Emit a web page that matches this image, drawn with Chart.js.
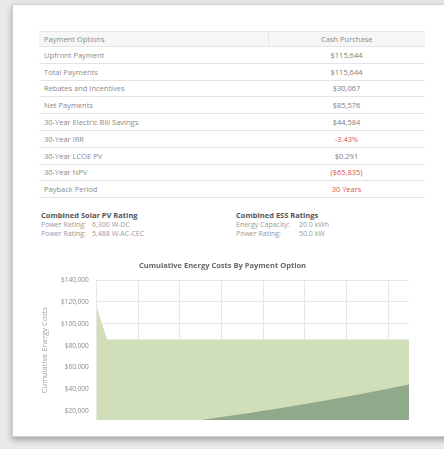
<!DOCTYPE html>
<html>
<head>
<meta charset="utf-8">
<script src="https://cdn.jsdelivr.net/npm/chart.js@4.4.0/dist/chart.umd.min.js"></script>
<style>
  body { margin: 0; width: 444px; height: 449px; background: #e9e9e9; font-family: "Open Sans", sans-serif; overflow: hidden; position: relative; }
  .card { position: absolute; left: 12px; top: 4px; width: 450px; height: 431px; background: #fff; border: 1px solid #cfcfcf; box-shadow: 0 3px 6px rgba(0,0,0,0.3); }
  table { position: absolute; left: 26px; top: 26px; width: 386px; border-collapse: collapse; font-size: 7.5px; color: #8a8a8a; }
  td, th { height: 16.8px; line-height: 8px; padding: 0 5px; border-bottom: 1px solid #e4e4e4; font-weight: normal; box-sizing: border-box; }
  th { height: 15px; background: #f6f6f6; text-align: left; border-top: 1px solid #e8e8e8; }
  th.r { text-align: center; border-left: 1px solid #e4e4e4; }
  td.v { text-align: center; color: #7d7d7d; }
  td.red { color: #d9534f; }
  .info { position: absolute; top: 206px; font-size: 7px; color: #9a9a9a; line-height: 9px; white-space: nowrap; }
  .info b { color: #555; font-size: 7.5px; }
  .info span { display: inline-block; }
  .chartbox { position: absolute; left: 23px; top: 251px; width: 395px; height: 176px; }
</style>
</head>
<body>
<div class="card">
  <table>
    <tr><th style="width:229px">Payment Options</th><th class="r">Cash Purchase</th></tr>
    <tr><td>Upfront Payment</td><td class="v">$115,644</td></tr>
    <tr><td>Total Payments</td><td class="v">$115,644</td></tr>
    <tr><td>Rebates and Incentives</td><td class="v">$30,067</td></tr>
    <tr><td>Net Payments</td><td class="v">$85,576</td></tr>
    <tr><td>30-Year Electric Bill Savings</td><td class="v">$44,584</td></tr>
    <tr><td>30-Year IRR</td><td class="v red">-3.43%</td></tr>
    <tr><td>30-Year LCOE PV</td><td class="v">$0.291</td></tr>
    <tr><td>30-Year NPV</td><td class="v red">($65,835)</td></tr>
    <tr><td>Payback Period</td><td class="v red">30 Years</td></tr>
  </table>
  <div class="info" style="left:28px">
    <b>Combined Solar PV Rating</b><br>
    <span style="width:51px">Power Rating:</span>6,300 W-DC<br>
    <span style="width:51px">Power Rating:</span>5,488 W-AC-CEC
  </div>
  <div class="info" style="left:223px">
    <b>Combined ESS Ratings</b><br>
    <span style="width:63px">Energy Capacity:</span>20.0 kWh<br>
    <span style="width:63px">Power Rating:</span>50.0 kW
  </div>
  <div class="chartbox"><canvas id="costChart"></canvas></div>
</div>
<script>
// years after purchase
const years = [0,1,2,3,4,5,6,7,8,9,10,11,12,13,14,15,16,17,18,19,20,21,22,23,24,25,26,27,28,29,30];
// cumulative cost of the cash purchase
const cashPurchase = [115644,85576,85576,85576,85576,85576,85576,85576,85576,85576,85576,85576,85576,85576,85576,85576,
  85576,85576,85576,85576,85576,85576,85576,85576,85576,85576,85576,85576,85576,85576,85576];
// cumulative electric bill savings
const billSavings = [0,1100,2220,3360,4530,5720,6930,8170,9430,10720,12030,13370,14740,16130,17560,19000,
  20490,21990,23530,25100,26700,28340,30000,31700,33430,35200,37000,38840,40720,42630,44584];
const yTicks = [20000,40000,60000,80000,100000,120000,140000];

const toPoints = (vals) => vals.map((v, i) => ({x: years[i], y: v}));

new Chart(document.getElementById('costChart'), {
  type: 'line',
  data: {
    datasets: [{
      label: 'Electric Bill Savings',
      data: toPoints(billSavings),
      backgroundColor: '#8fa98a',
      borderWidth: 0,
      pointRadius: 0,
      fill: 'start'
    }, {
      label: 'Cash Purchase',
      data: toPoints(cashPurchase),
      backgroundColor: '#d0deb9',
      borderWidth: 0,
      pointRadius: 0,
      fill: 'start'
    }]
  },
  options: {
    responsive: true,
    maintainAspectRatio: false,
    animation: false,
    layout: { padding: { right: 22, bottom: 0 } },
    plugins: {
      legend: { display: false },
      tooltip: { enabled: false },
      title: {
        display: true,
        text: 'Cumulative Energy Costs By Payment Option',
        color: '#666',
        font: { family: 'Open Sans', size: 7.5, weight: 'bold' },
        padding: { top: 5, bottom: 10 }
      }
    },
    scales: {
      x: {
        type: 'linear',
        min: 0,
        max: 30,
        ticks: { display: false, stepSize: 4, includeBounds: false },
        grid: { color: '#e6e6e6', drawTicks: false },
        border: { display: false }
      },
      y: {
        min: 12000,
        max: 140000,
        afterBuildTicks: (scale) => { scale.ticks = yTicks.map(v => ({value: v})); },
        ticks: {
          color: '#8a8a8a',
          font: { family: 'Open Sans', size: 6.5 },
          padding: 8,
          callback: (v) => '$' + v.toLocaleString('en-US')
        },
        grid: { color: '#e6e6e6', drawTicks: false },
        border: { display: false },
        title: {
          display: true,
          text: 'Cumulative Energy Costs',
          color: '#a0a0a0',
          font: { family: 'Open Sans', size: 7.5 },
          padding: { bottom: 4 }
        }
      }
    }
  }
});
</script>
</body>
</html>
